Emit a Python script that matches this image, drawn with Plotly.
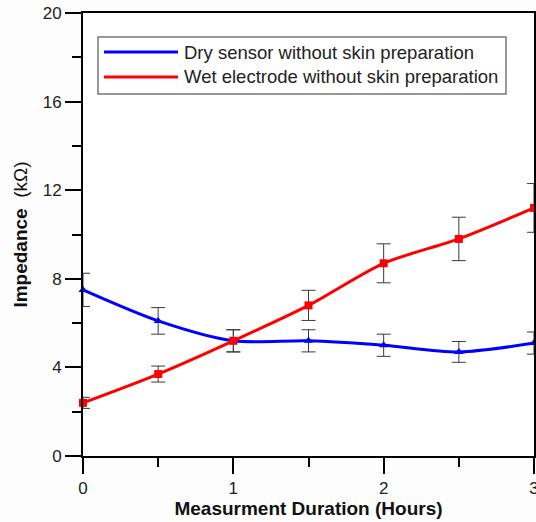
import plotly.graph_objects as go

# Measurement times (hours)
hours = [0, 0.5, 1, 1.5, 2, 2.5, 3]

# Dry sensor without skin preparation: impedance (kOhm) and error
dry_mean = [7.5, 6.1, 5.2, 5.2, 5.0, 4.7, 5.1]
dry_err = [0.75, 0.6, 0.5, 0.5, 0.5, 0.47, 0.5]

# Wet electrode without skin preparation: impedance (kOhm) and error
wet_mean = [2.4, 3.7, 5.2, 6.8, 8.7, 9.8, 11.2]
wet_err = [0.25, 0.36, 0.5, 0.68, 0.88, 0.98, 1.1]

legend_labels = ["Dry sensor without skin preparation",
                 "Wet electrode without skin preparation"]
colors = ["#0000ff", "#ff0000"]

W, H = 536, 522
ML, MR, MT, MB = 83, 2, 13, 66
FONT = "Liberation Sans, Arial"

fig = go.Figure()

err_style = dict(type="data", visible=True, color="#3a3a3a", thickness=1, width=7)

fig.add_trace(go.Scatter(
    x=hours, y=dry_mean, mode="lines+markers",
    line=dict(color=colors[0], width=3, shape="spline", smoothing=0.8),
    marker=dict(symbol="triangle-up", size=8, color=colors[0]),
    error_y=dict(array=dry_err, **err_style),
    cliponaxis=False, showlegend=False,
))
fig.add_trace(go.Scatter(
    x=hours, y=wet_mean, mode="lines+markers",
    line=dict(color=colors[1], width=3, shape="spline", smoothing=0.8),
    marker=dict(symbol="square", size=8, color=colors[1]),
    error_y=dict(array=wet_err, **err_style),
    cliponaxis=False, showlegend=False,
))

axis_common = dict(
    showline=True, linecolor="black", linewidth=2, mirror=True,
    ticks="outside", ticklen=16, tickwidth=2, tickcolor="black",
    showgrid=False, zeroline=False, ticklabeloverflow="allow",
    automargin=False,
    tickfont=dict(family=FONT, size=17, color="#222222"),
)

fig.update_xaxes(
    range=[0, 3], tickvals=[0, 1, 2, 3],
    minor=dict(ticks="outside", ticklen=9, tickwidth=2, tickcolor="black", dtick=0.5),
    title=dict(text="<b>Measurment Duration (Hours)</b>", standoff=2,
               font=dict(family=FONT, size=19, color="#111111")),
    **axis_common,
)
fig.update_yaxes(
    range=[0, 20], tickvals=[0, 4, 8, 12, 16, 20],
    minor=dict(ticks="outside", ticklen=9, tickwidth=2, tickcolor="black", dtick=2),
    title=dict(text="<b>Impedance</b>  (kΩ)", standoff=10,
               font=dict(family=FONT, size=19, color="#111111")),
    **axis_common,
)

# Legend box placed in pixel-derived paper coordinates
pw, ph = W - ML - MR, H - MT - MB
def px(x):
    return (x - ML) / pw
def py(y):
    return 1 - (y - MT) / ph

shapes = [dict(type="rect", xref="paper", yref="paper",
               x0=px(98), x1=px(506), y0=py(37), y1=py(94),
               line=dict(color="#777777", width=1.5), fillcolor="white")]
annotations = []
for i, (lab, col) in enumerate(zip(legend_labels, colors)):
    yy = 52 + i * 25
    shapes.append(dict(type="line", xref="paper", yref="paper",
                       x0=px(104), x1=px(178), y0=py(yy), y1=py(yy),
                       line=dict(color=col, width=3)))
    annotations.append(dict(xref="paper", yref="paper", x=px(182), y=py(yy),
                            text=lab, showarrow=False, xanchor="left", yanchor="middle",
                            font=dict(family=FONT, size=18.5, color="#222222")))

fig.update_layout(
    width=W, height=H,
    margin=dict(l=ML, r=MR, t=MT, b=MB),
    paper_bgcolor="#fdfdfd", plot_bgcolor="white",
    shapes=shapes, annotations=annotations,
)

fig.write_html("out.html")
